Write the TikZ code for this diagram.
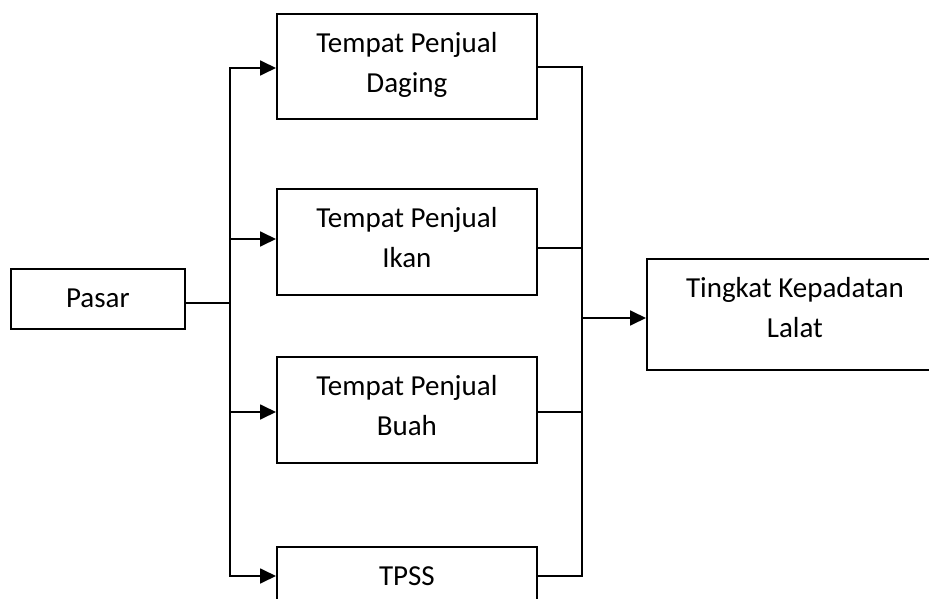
\documentclass[tikz,border=0pt]{standalone}
\usepackage{fontspec}
\setmainfont{Carlito}
\usetikzlibrary{arrows.meta}

\begin{document}
\begin{tikzpicture}[x = 1pt, y = -1pt]
\tikzstyle{BoxStyle} = [draw, line width = 1.8pt, anchor = north west, align = flush center, inner xsep = 3pt, inner ysep = 0pt, text width = 254pt, text height = 39pt, text depth = 67pt, font = \fontsize{29}{39.5}\selectfont]
\tikzstyle{LineStyle} = [line width = 1.8pt, line cap = rect]
\tikzstyle{ArrowStyle} = [line width = 1.8pt, -{Triangle[length = 16pt, width = 15pt]}]
\useasboundingbox (0,0) rectangle (929,599);
\node[BoxStyle, text width = 168pt, text depth = 21pt] (pasar) at (10,268) {Pasar};
\node[BoxStyle, text depth = 66pt] (daging) at (276,13) {Tempat Penjual\\Daging};
\node[BoxStyle] (ikan) at (276,188) {Tempat Penjual\\Ikan};
\node[BoxStyle] (buah) at (276,356) {Tempat Penjual\\Buah};
\node[BoxStyle] (tpss) at (276,546) {TPSS};
\node[BoxStyle, text width = 290pt, text depth = 72pt] (tingkat) at (646,258) {Tingkat Kepadatan\\Lalat};
\coordinate (ljoin) at (230,303);
\coordinate (lbus1) at (230,68);
\coordinate (lbus2) at (230,239);
\coordinate (lbus3) at (230,412);
\coordinate (lbus4) at (230,576);
\coordinate (rjoin) at (582,318);
\coordinate (rbus1) at (582,67);
\coordinate (rbus2) at (582,248);
\coordinate (rbus3) at (582,412);
\coordinate (rbus4) at (582,576);
\draw[LineStyle] (pasar.east |- ljoin) -- (ljoin);
\draw[LineStyle] (lbus1) -- (lbus4);
\draw[LineStyle] (rbus1) -- (rbus4);
\foreach \name/\i in {daging/1, ikan/2, buah/3, tpss/4}
{
\draw[ArrowStyle] (lbus\i) -- (\name.west |- lbus\i);
\draw[LineStyle] (\name.east |- rbus\i) -- (rbus\i);
}
\draw[ArrowStyle] (rjoin) -- (tingkat.west |- rjoin);
\end{tikzpicture}
\end{document}
